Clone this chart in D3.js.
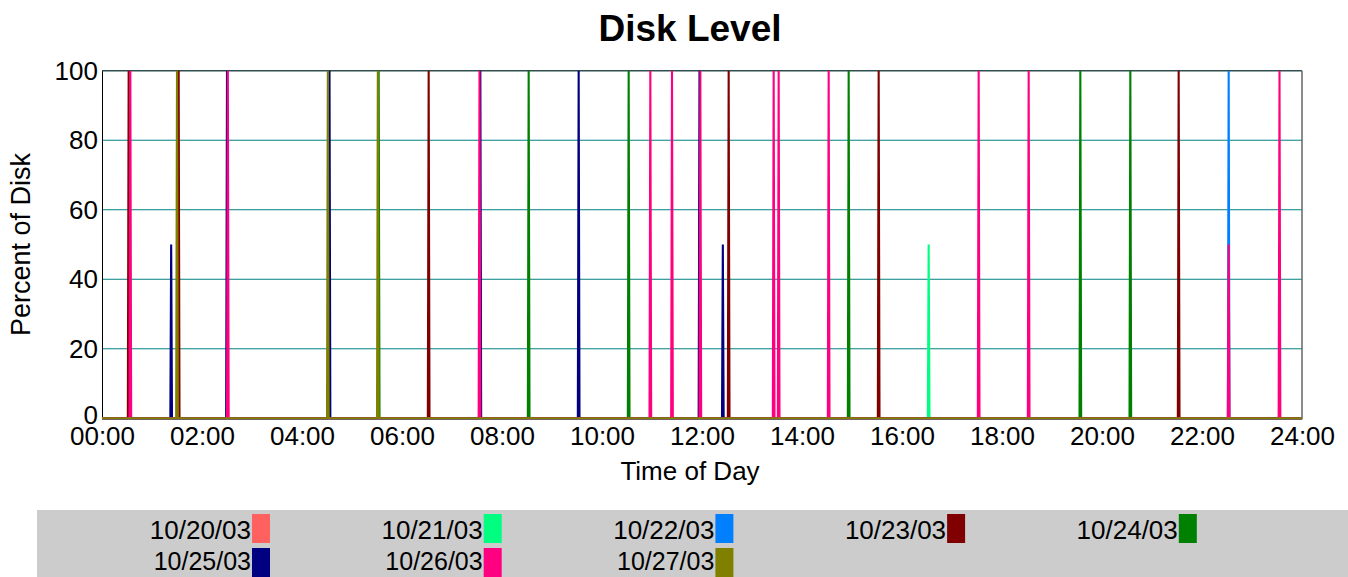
<!DOCTYPE html>
<html>
<head>
<meta charset="utf-8">
<script src="https://cdn.jsdelivr.net/npm/d3@7/dist/d3.min.js"></script>
<style>
  html, body { margin: 0; padding: 0; background: #fff; }
  svg { display: block; }
  text { font-family: "Liberation Sans", Arial, sans-serif; fill: #000; }
</style>
</head>
<body>
<svg id="chart" width="1348" height="577"></svg>
<script>
// ---------- data ----------
const seriesNames = ["10/20/03", "10/21/03", "10/22/03", "10/23/03", "10/24/03", "10/25/03", "10/26/03", "10/27/03"];
// spike times (HH:MM) and their values for each day; otherwise the level is 0
const spikes1020 = { times: [], values: [] };
const spikes1021 = { times: ["16:32"], values: [50] };
const spikes1022 = { times: ["22:32"], values: [100] };
const spikes1023 = { times: ["00:32", "01:32", "06:32", "12:32", "15:32", "21:32"], values: [100, 100, 100, 100, 100, 100] };
const spikes1024 = { times: ["05:32", "08:32", "10:32", "14:56", "19:34", "20:34"], values: [100, 100, 100, 100, 100, 100] };
const spikes1025 = { times: ["01:23", "02:30", "04:33", "07:34", "09:32", "11:57", "12:25"], values: [50, 100, 100, 100, 100, 100, 50] };
const spikes1026 = { times: ["00:34", "02:31", "07:33", "10:58", "11:24", "11:58", "13:26", "13:32", "14:32", "17:32", "18:32", "22:32", "23:33"],
                     values: [100, 100, 100, 100, 100, 100, 100, 100, 100, 100, 100, 50, 100] };
const spikes1027 = { times: ["01:30", "04:31", "05:31"], values: [100, 100, 100] };
const allSpikes = [spikes1020, spikes1021, spikes1022, spikes1023, spikes1024, spikes1025, spikes1026, spikes1027];
const xTickLabels = ["00:00","02:00","04:00","06:00","08:00","10:00","12:00","14:00","16:00","18:00","20:00","22:00","24:00"];
const yTicks = [0, 20, 40, 60, 80, 100];

// ---------- styles ----------
const colors = ["#FF6060", "#00FF80", "#0080FF", "#800000", "#008000", "#000080", "#FF0080", "#808000"];

const svg = d3.select("#chart");
const L = 102, R = 1302, T = 70.7, B = 418.3;

const toMin = s => { const [h, m] = s.split(":").map(Number); return h * 60 + m; };
const x = d3.scaleLinear().domain([0, 1440]).range([L, R]);
const y = d3.scaleLinear().domain([0, 100]).range([B, T]);

// sampled once a minute: a spike is a single sample between zero samples
function buildSeries(sp) {
  const pts = [[0, 0]];
  sp.times.forEach((t, i) => {
    const m = toMin(t);
    pts.push([m - 1, 0], [m, sp.values[i]], [m + 1, 0]);
  });
  pts.push([1440, 0]);
  return pts;
}

svg.append("defs").append("clipPath").attr("id", "plotclip")
  .append("rect").attr("x", L).attr("y", T - 0.5).attr("width", R - L).attr("height", B - T + 2);

// gridlines
svg.append("g").selectAll("line").data([20, 40, 60, 80]).join("line")
  .attr("x1", L).attr("x2", R).attr("y1", d => y(d)).attr("y2", d => y(d))
  .attr("stroke", "#008080").attr("stroke-width", 1);

// top and right border
svg.append("line").attr("x1", L).attr("x2", R).attr("y1", y(100)).attr("y2", y(100))
  .attr("stroke", "#2F4F4F").attr("stroke-width", 1.5);
svg.append("line").attr("x1", R).attr("x2", R).attr("y1", T).attr("y2", B)
  .attr("stroke", "#666").attr("stroke-width", 1.5);

// axes
const xAxis = d3.axisBottom(x).tickValues(xTickLabels.map(toMin))
  .tickFormat((d, i) => xTickLabels[i]).tickSize(0).tickPadding(8);
const gx = svg.append("g").attr("transform", `translate(0,${B})`).call(xAxis);
gx.select(".domain").attr("stroke", "#000");
gx.selectAll("text").style("font-size", "26px").style("font-family", "Liberation Sans, Arial, sans-serif");

const yAxis = d3.axisLeft(y).tickValues(yTicks).tickSize(0).tickPadding(4);
const gy = svg.append("g").attr("transform", `translate(${L},0)`).call(yAxis);
gy.select(".domain").attr("stroke", "#000");
gy.selectAll("text").style("font-size", "26px").style("font-family", "Liberation Sans, Arial, sans-serif");
gy.selectAll(".tick").filter(d => d === 0).select("text").attr("dy", "0.2em");

// series
const line = d3.line().x(d => x(d[0])).y(d => y(d[1]));
const gs = svg.append("g").attr("clip-path", "url(#plotclip)");
allSpikes.forEach((sp, i) => {
  gs.append("path").datum(buildSeries(sp))
    .attr("d", line).attr("fill", "none")
    .attr("stroke", colors[i]).attr("stroke-width", 2.1)
    .attr("stroke-linejoin", "bevel");
});

// titles
svg.append("text").attr("x", 690).attr("y", 41).attr("text-anchor", "middle")
  .style("font-size", "37px").style("font-weight", "bold").text("Disk Level");
svg.append("text").attr("x", 690).attr("y", 480).attr("text-anchor", "middle")
  .style("font-size", "26px").text("Time of Day");
svg.append("text").attr("transform", `translate(30,${(T + B) / 2}) rotate(-90)`)
  .attr("text-anchor", "middle").style("font-size", "27px").text("Percent of Disk");

// legend
svg.append("rect").attr("x", 37).attr("y", 510).attr("width", 1348 - 37).attr("height", 67).attr("fill", "#CCCCCC");
const legend = svg.append("g");
seriesNames.forEach((name, i) => {
  const col = i % 5, row = Math.floor(i / 5);
  const sx = 252 + col * 231.7, sy = 514 + row * 34;
  legend.append("rect").attr("x", sx).attr("y", sy).attr("width", 18).attr("height", row ? 29 : 29)
    .attr("fill", colors[i]);
  legend.append("text").attr("x", sx - 1).attr("y", sy + 25 - row * 3).attr("text-anchor", "end")
    .style("font-size", row ? "25px" : "26px").text(name);
});
</script>
</body>
</html>
